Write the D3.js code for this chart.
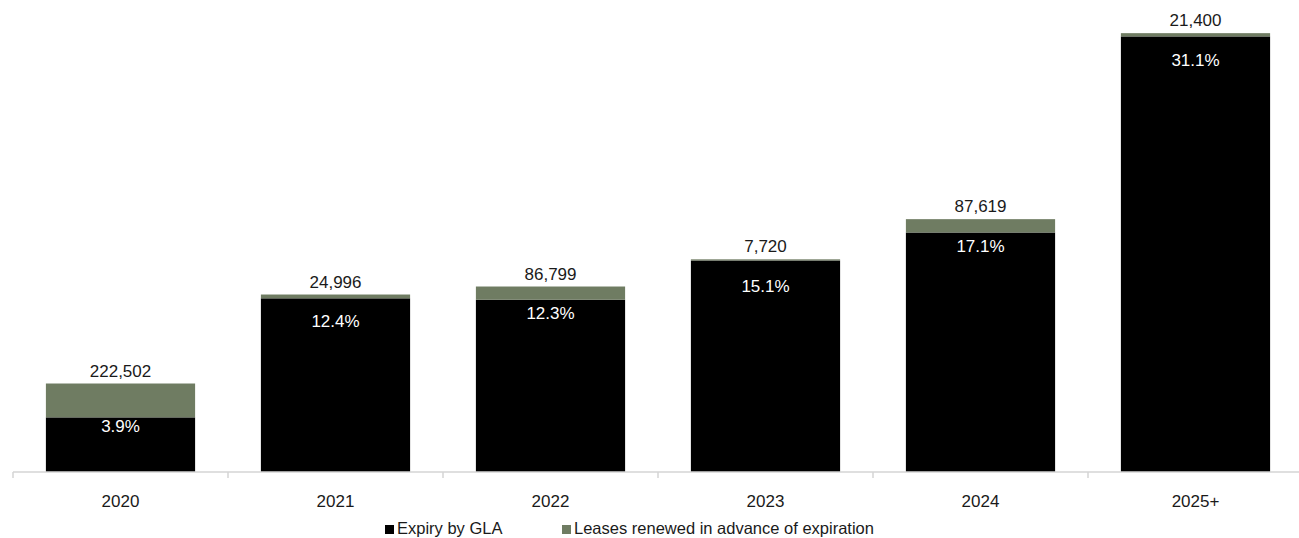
<!DOCTYPE html>
<html>
<head>
<meta charset="utf-8">
<script src="https://cdn.jsdelivr.net/npm/d3@7"></script>
<style>
  html, body { margin: 0; padding: 0; background: #fff; }
  svg text { font-family: "Liberation Sans", Arial, sans-serif; }
</style>
</head>
<body>
<div id="chart"></div>
<script>
// Lease expiry profile: share of GLA expiring + leases renewed in advance
const years = ["2020", "2021", "2022", "2023", "2024", "2025+"];
const expiryPct = [3.9, 12.4, 12.3, 15.1, 17.1, 31.1];          // % of total GLA
const renewedSqft = [222502, 24996, 86799, 7720, 87619, 21400];  // sq ft renewed early
const totalGLA = 9200000;                                        // approx. portfolio GLA, sq ft

const seriesNames = ["Expiry by GLA", "Leases renewed in advance of expiration"];
const colors = ["#000000", "#6f7c62"];

const W = 1299, H = 538;
const margin = { top: 0, right: -4, bottom: 66, left: 13 };
const width = W - margin.left - margin.right;
const height = H - margin.top - margin.bottom;

const data = years.map((y, i) => ({
    year: y,
    expiry: expiryPct[i],
    renewed: renewedSqft[i] / totalGLA * 100,
    pctLabel: expiryPct[i].toFixed(1) + "%",
    sqftLabel: d3.format(",")(renewedSqft[i])
}));

const svg = d3.select("#chart")
    .append("svg")
    .attr("width", W)
    .attr("height", H)
    .append("g")
    .attr("transform", `translate(${margin.left},${margin.top})`);

const x = d3.scaleBand()
    .domain(years)
    .range([0, width])
    .paddingInner(0.306)
    .paddingOuter(0.153);

const y = d3.scaleLinear()
    .domain([0, 33.7])
    .range([height, 0]);

const stack = d3.stack().keys(["expiry", "renewed"]);
const layers = stack(data);

svg.selectAll(".layer")
    .data(layers)
    .enter()
    .append("g")
    .attr("fill", (d, i) => colors[i])
    .selectAll("rect")
    .data(d => d)
    .enter()
    .append("rect")
    .attr("x", d => x(d.data.year))
    .attr("width", x.bandwidth())
    .attr("y", d => y(d[1]))
    .attr("height", d => y(d[0]) - y(d[1]));

// Axis: baseline with ticks at category boundaries
const axis = svg.append("g").attr("transform", `translate(0,${height})`);
axis.append("line")
    .attr("x1", 0).attr("x2", width)
    .attr("stroke", "#d4d4d4").attr("stroke-width", 1.5);
const step = x.step();
axis.selectAll(".tick")
    .data(d3.range(years.length + 1))
    .enter()
    .append("line")
    .attr("x1", i => i * step).attr("x2", i => i * step)
    .attr("y1", 0).attr("y2", 6)
    .attr("stroke", "#d4d4d4").attr("stroke-width", 1.5);
axis.selectAll(".year")
    .data(years)
    .enter()
    .append("text")
    .attr("x", d => x(d) + x.bandwidth() / 2)
    .attr("y", 35)
    .attr("text-anchor", "middle")
    .attr("font-size", 17)
    .attr("fill", "#1a1a1a")
    .text(d => d);

// Renewed sq ft labels above each stack
svg.selectAll(".top-label")
    .data(data)
    .enter()
    .append("text")
    .attr("x", d => x(d.year) + x.bandwidth() / 2)
    .attr("y", d => y(d.expiry + d.renewed) - 7)
    .attr("text-anchor", "middle")
    .attr("font-size", 17)
    .attr("fill", "#1a1a1a")
    .text(d => d.sqftLabel);

// Expiry % labels inside black bars
svg.selectAll(".pct-label")
    .data(data)
    .enter()
    .append("text")
    .attr("x", d => x(d.year) + x.bandwidth() / 2)
    .attr("y", d => Math.max(y(d.expiry + d.renewed) + 26, y(d.expiry) + 8) + 6.5)
    .attr("text-anchor", "middle")
    .attr("font-size", 17)
    .attr("fill", "#fff")
    .text(d => d.pctLabel);

// Legend
const legend = svg.append("g").attr("transform", `translate(${385 - margin.left},${height + 62})`);
const legendX = [0, 177];
seriesNames.forEach((name, i) => {
    const item = legend.append("g").attr("transform", `translate(${legendX[i]},0)`);
    item.append("rect")
        .attr("x", 0).attr("y", -9)
        .attr("width", 9).attr("height", 9)
        .attr("fill", colors[i]);
    item.append("text")
        .attr("x", 12).attr("y", 0)
        .attr("font-size", 16.5)
        .attr("fill", "#1a1a1a")
        .text(name);
});
</script>
</body>
</html>
